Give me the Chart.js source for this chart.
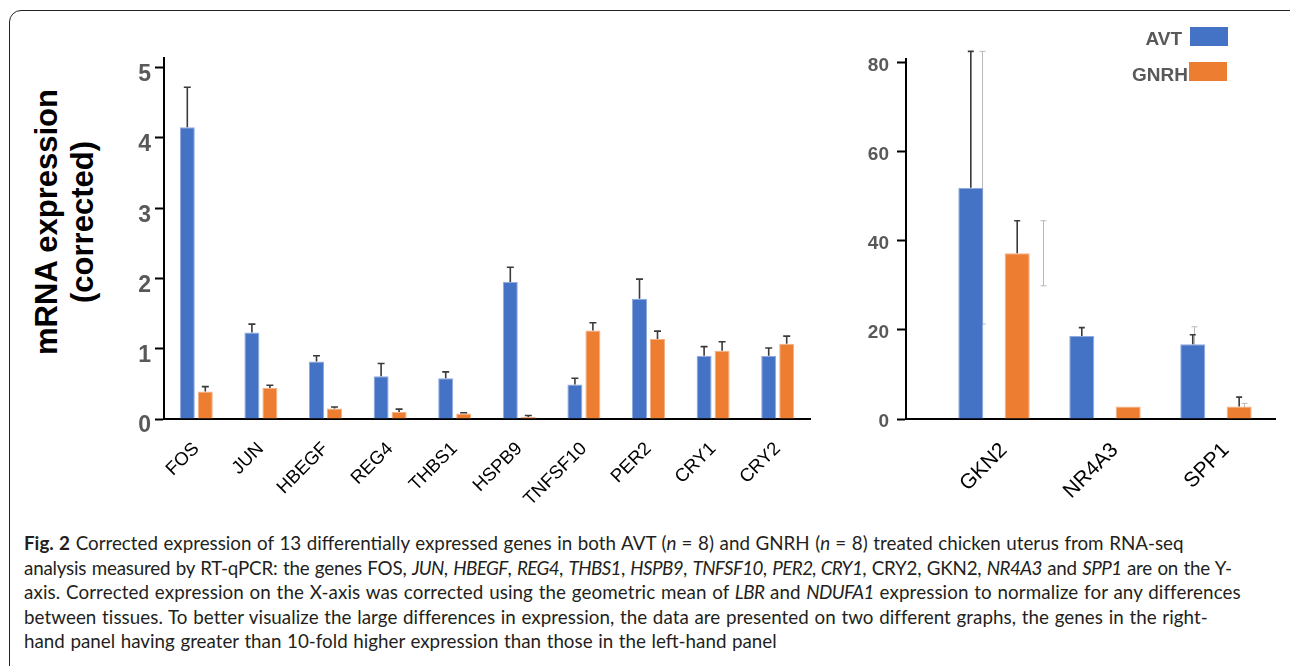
<!DOCTYPE html>
<html>
<head>
<meta charset="utf-8">
<script src="https://cdn.jsdelivr.net/npm/chart.js@4.4.0/dist/chart.umd.min.js"></script>
<style>
  body { margin: 0; width: 1290px; height: 666px; overflow: hidden; background: #fff; position: relative; font-family: "Liberation Sans", Arial, sans-serif; }
  #frame { position: absolute; left: 9px; top: 10px; width: 1300px; height: 690px; border: 1.5px solid #222; border-radius: 12px; box-sizing: border-box; }
  #leftBox { position: absolute; left: 110px; top: 40px; width: 710px; height: 490px; }
  #rightBox { position: absolute; left: 850px; top: 40px; width: 430px; height: 490px; }
  #ytitle { position: absolute; left: -82px; top: 183px; width: 300px; height: 78px; line-height: 39px; text-align: center;
            font: bold 31px "Liberation Sans", Arial, sans-serif; color: #000; transform: rotate(-90deg); white-space: nowrap; }
  .lg { position: absolute; font: bold 19px "Liberation Sans", Arial, sans-serif; line-height: 19px; color: #595959; text-align: right; }
  .sw { position: absolute; width: 38px; height: 19px; }
  #caption { position: absolute; left: 24px; top: 531px; font-family: Lato, "Open Sans", sans-serif; font-size: 18.8px; line-height: 24.5px;
             word-spacing: 0.8px; color: #231f20; white-space: nowrap; }
  #caption i { letter-spacing: -0.6px; }
</style>
</head>
<body>
<div id="frame"></div>
<div id="ytitle">mRNA expression<br>(corrected)</div>
<div id="leftBox"><canvas id="left"></canvas></div>
<div id="rightBox"><canvas id="right"></canvas></div>
<div class="lg" style="right:108px; top:29px;">AVT</div>
<div class="sw" style="left:1190px; top:27px; background:#4472C4;"></div>
<div class="lg" style="right:102px; top:65px;">GNRH</div>
<div class="sw" style="left:1189px; top:62px; background:#ED7D31;"></div>
<div id="caption">
  <div><b>Fig. 2</b> Corrected expression of 13 differentially expressed genes in both AVT (<i>n</i> = 8) and GNRH (<i>n</i> = 8) treated chicken uterus from RNA-seq</div>
  <div style="letter-spacing:-0.2px">analysis measured by RT-qPCR: the genes FOS, <i>JUN</i>, <i>HBEGF</i>, <i>REG4</i>, <i>THBS1</i>, <i>HSPB9</i>, <i>TNFSF10</i>, <i>PER2, CRY1</i>, CRY2, GKN2, <i>NR4A3</i> and <i>SPP1</i> are on the Y-</div>
  <div style="letter-spacing:0.1px">axis. Corrected expression on the X-axis was corrected using the geometric mean of <i>LBR</i> and <i>NDUFA1</i> expression to normalize for any differences</div>
  <div style="letter-spacing:0.05px">between tissues. To better visualize the large differences in expression, the data are presented on two different graphs, the genes in the right-</div>
  <div>hand panel having greater than 10-fold higher expression than those in the left-hand panel</div>
</div>
<script>
// left panel (lower expression)
const leftGenes = ['FOS', 'JUN', 'HBEGF', 'REG4', 'THBS1', 'HSPB9', 'TNFSF10', 'PER2', 'CRY1', 'CRY2'];
const leftAvt = [4.15, 1.23, 0.82, 0.61, 0.58, 1.95, 0.49, 1.71, 0.90, 0.90];
const leftAvtErr = [0.57, 0.12, 0.08, 0.18, 0.09, 0.21, 0.09, 0.28, 0.13, 0.11];
const leftGnrh = [0.39, 0.44, 0.15, 0.10, 0.08, 0.03, 1.26, 1.14, 0.97, 1.07];
const leftGnrhErr = [0.07, 0.04, 0.02, 0.04, 0.01, 0.02, 0.11, 0.11, 0.13, 0.11];
const leftTicks = [0, 1, 2, 3, 4, 5];

// right panel (>10-fold higher)
const rightGenes = ['GKN2', 'NR4A3', 'SPP1'];
const rightAvt = [51.9, 18.6, 16.8];
const rightAvtErr = [30.6, 1.9, 2.1];
const rightGnrh = [37.2, 2.8, 2.8];
const rightGnrhErr = [7.3, 0, 2.1];
// faint grey error bars left over in the figure
const rightAvtFaintErr = [30.6, 0, 3.9];
const rightGnrhFaintErr = [7.3, 0, 0.7];
const rightTicks = [0, 20, 40, 60, 80];

const BLUE = '#4472C4', ORANGE = '#ED7D31';

function valueOf(d) { return typeof d === 'object' ? d.y : d; }

const errorBars = {
    id: 'errorBars',
    beforeDatasetsDraw(chart) {
        const ctx = chart.ctx, ys = chart.scales.y;
        ctx.save();
        ctx.strokeStyle = '#b8b8b8';
        ctx.lineWidth = 1;
        chart.data.datasets.forEach((ds, di) => {
            if (!ds.faintErr) return;
            chart.getDatasetMeta(di).data.forEach((bar, i) => {
                const sd = ds.faintErr[i];
                if (!sd) return;
                const v = valueOf(ds.data[i]);
                const x = Math.round(bar.x + ds.faintShift[i]) + 0.5;
                const top = ys.getPixelForValue(v + sd), bot = ys.getPixelForValue(v - sd);
                ctx.beginPath();
                ctx.moveTo(x, top); ctx.lineTo(x, bot);
                ctx.moveTo(x - 3, top); ctx.lineTo(x + 3, top);
                ctx.moveTo(x - 3, bot); ctx.lineTo(x + 3, bot);
                ctx.stroke();
            });
        });
        ctx.restore();
    },
    afterDatasetsDraw(chart, args, opts) {
        const ctx = chart.ctx, ys = chart.scales.y;
        ctx.save();
        ctx.strokeStyle = '#3a3a3a';
        ctx.lineWidth = 1.6;
        chart.data.datasets.forEach((ds, di) => {
            chart.getDatasetMeta(di).data.forEach((bar, i) => {
                const sd = ds.err[i];
                if (!sd) return;
                const v = valueOf(ds.data[i]);
                const top = ys.getPixelForValue(v + sd);
                const x = bar.x;
                ctx.beginPath();
                ctx.moveTo(x, bar.y); ctx.lineTo(x, top);
                ctx.moveTo(x - opts.cap, top); ctx.lineTo(x + opts.cap, top);
                ctx.stroke();
            });
        });
        ctx.restore();
    }
};

const yTickFont = { family: '"Liberation Sans", Arial, sans-serif', weight: 'bold' };

new Chart(document.getElementById('left'), {
    type: 'bar',
    data: {
        labels: leftGenes,
        datasets: [
            { label: 'AVT', data: leftAvt, err: leftAvtErr, backgroundColor: BLUE, borderColor: '#8faadc', borderWidth: 1 },
            { label: 'GNRH', data: leftGnrh, err: leftGnrhErr, backgroundColor: ORANGE, borderColor: '#f4b183', borderWidth: 1 }
        ]
    },
    options: {
        responsive: true, maintainAspectRatio: false, animation: false, devicePixelRatio: 1,
        categoryPercentage: 0.557, barPercentage: 0.833,
        layout: { padding: { top: 13, right: 10 } },
        plugins: { legend: { display: false }, tooltip: { enabled: false }, errorBars: { cap: 3.5 } },
        scales: {
            x: {
                grid: { display: false },
                border: { color: '#000', width: 2 },
                afterFit: s => { s.height = 111; },
                ticks: { color: '#000', font: { family: '"Liberation Sans", Arial, sans-serif', size: 18.5 },
                         minRotation: 45, maxRotation: 45, autoSkip: false, padding: 11 }
            },
            y: {
                min: 0, max: 5.14,
                afterBuildTicks: s => { s.ticks = leftTicks.map(v => ({ value: v })); },
                afterFit: s => { s.width = 54; },
                grid: { drawOnChartArea: false, drawTicks: true, tickLength: 9, tickColor: '#000', tickWidth: 2 },
                border: { color: '#000', width: 2 },
                ticks: { color: '#595959', font: { ...yTickFont, size: 23 }, padding: 4, labelOffset: 7 }
            }
        }
    },
    plugins: [errorBars]
});

new Chart(document.getElementById('right'), {
    type: 'bar',
    data: {
        datasets: [
            { label: 'AVT', data: rightAvt.map((v, i) => ({ x: i, y: v })), err: rightAvtErr,
              faintErr: rightAvtFaintErr, faintShift: [11, 0, 1],
              backgroundColor: BLUE, borderColor: '#8faadc', borderWidth: 1 },
            { label: 'GNRH', data: rightGnrh.map((v, i) => ({ x: i, y: v })), err: rightGnrhErr,
              faintErr: rightGnrhFaintErr, faintShift: [26, 0, 4.5],
              backgroundColor: ORANGE, borderColor: '#f4b183', borderWidth: 1 }
        ]
    },
    options: {
        responsive: true, maintainAspectRatio: false, animation: false, devicePixelRatio: 1,
        categoryPercentage: 0.836, barPercentage: 0.54,
        layout: { padding: { top: 15, right: 5 } },
        plugins: { legend: { display: false }, tooltip: { enabled: false }, errorBars: { cap: 3 } },
        scales: {
            x: {
                type: 'linear', min: -0.793, max: 2.532, offset: false,
                afterBuildTicks: s => { s.ticks = rightGenes.map((g, i) => ({ value: i })); },
                grid: { display: false },
                border: { color: '#000', width: 2 },
                afterFit: s => { s.height = 111; },
                ticks: { color: '#000', font: { family: '"Liberation Sans", Arial, sans-serif', size: 21 },
                         minRotation: 45, maxRotation: 45, autoSkip: false, padding: 11, labelOffset: 10,
                         callback: v => rightGenes[v] }
            },
            y: {
                min: 0, max: 80.7,
                afterBuildTicks: s => { s.ticks = rightTicks.map(v => ({ value: v })); },
                afterFit: s => { s.width = 56; },
                grid: { drawOnChartArea: false, drawTicks: true, tickLength: 9, tickColor: '#000', tickWidth: 2 },
                border: { color: '#000', width: 2 },
                ticks: { color: '#595959', font: { ...yTickFont, size: 19 }, padding: 8, labelOffset: 3 }
            }
        }
    },
    plugins: [errorBars]
});
</script>
</body>
</html>
